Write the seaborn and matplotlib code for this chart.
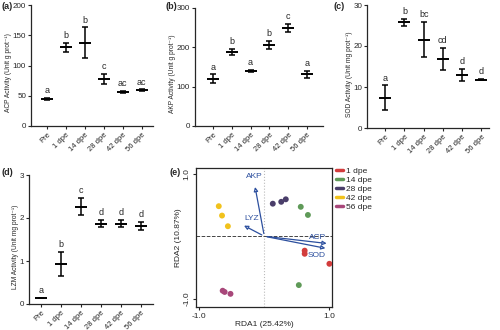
import numpy as np
import pandas as pd
import matplotlib
matplotlib.use("Agg")
import matplotlib.pyplot as plt
import seaborn as sns
from matplotlib.lines import Line2D
from matplotlib.patches import FancyArrowPatch

sns.set_style("ticks")
plt.rcParams['font.family'] = ['Liberation Sans', 'DejaVu Sans']

groups = ["Pre", "1 dpe", "14 dpe", "28 dpe", "42 dpe", "56 dpe"]

acp_mean = [45, 130, 138, 78, 56, 59]
acp_sd = [2, 8, 25, 8, 2, 1.5]
acp_letters = ["a", "b", "b", "c", "ac", "ac"]

akp_mean = [120, 188, 140, 206, 249, 132]
akp_sd = [11, 8, 3, 11, 10, 9]
akp_letters = ["a", "b", "a", "b", "c", "a"]

sod_mean = [7.4, 25.8, 21.5, 16.8, 13.0, 11.8]
sod_sd = [3.0, 0.8, 4.3, 2.7, 1.5, 0.15]
sod_letters = ["a", "b", "bc", "cd", "d", "d"]

lzm_mean = [0.14, 0.94, 2.26, 1.87, 1.87, 1.81]
lzm_sd = [0.01, 0.28, 0.20, 0.09, 0.08, 0.10]
lzm_letters = ["a", "b", "c", "d", "d", "d"]

# RDA data
rda_groups = ["1 dpe", "1 dpe", "1 dpe", "14 dpe", "14 dpe", "14 dpe",
              "28 dpe", "28 dpe", "28 dpe", "42 dpe", "42 dpe", "42 dpe",
              "56 dpe", "56 dpe", "56 dpe"]
rda1 = [0.62, 0.62, 1.0, 0.56, 0.67, 0.53, 0.13, 0.26, 0.33,
        -0.70, -0.65, -0.56, -0.64, -0.61, -0.52]
rda2 = [-0.23, -0.28, -0.44, 0.47, 0.34, -0.78, 0.52, 0.55, 0.59,
        0.48, 0.33, 0.16, -0.87, -0.89, -0.92]
vec_names = ["AKP", "LYZ", "ACP", "SOD"]
vec_x = [-0.15, -0.35, 1.0, 0.98]
vec_y = [0.83, 0.19, -0.12, -0.20]
palette = {"1 dpe": "#d23c3c", "14 dpe": "#5f9a58", "28 dpe": "#4a3e6a",
           "42 dpe": "#f1c21c", "56 dpe": "#a8477a"}

W, H = 500, 330
fig = plt.figure(figsize=(5, 3.3), dpi=100)

def px_axes(l, t, r, b):
    return fig.add_axes([l / W, 1 - b / H, (r - l) / W, (b - t) / H])

def bar_panel(ax, means, sds, letters, ymax, yticks, ylabel, xlim):
    df = pd.DataFrame({"group": groups, "mean": means})
    x = np.arange(len(groups))
    ax.errorbar(x, means, yerr=sds, fmt="none", ecolor="black",
                elinewidth=1.1, capsize=2.3, capthick=1.1, zorder=3)
    sns.scatterplot(data=df, x="group", y="mean", marker="_", s=70,
                    color="black", linewidth=1.4, ax=ax, zorder=4, legend=False)
    for xi, m, s, lt in zip(x, means, sds, letters):
        ax.annotate(lt, (xi, m + s), xytext=(0, 2), textcoords="offset points",
                    ha="center", va="bottom", fontsize=6.5)
    ax.set_ylim(0, ymax)
    ax.set_yticks(yticks)
    ax.set_xlim(*xlim)
    ax.set_xticks(x)
    ax.set_xticklabels(groups, rotation=45, ha="right", rotation_mode="anchor",
                       fontsize=5.5)
    ax.tick_params(axis="y", labelsize=5.8, length=2.5, width=0.8, pad=1)
    ax.tick_params(axis="x", length=2.5, width=0.8, pad=1.5)
    ax.set_xlabel("")
    ax.set_ylabel(ylabel, fontsize=4.8, labelpad=0.5)
    ax.yaxis.label.set_y(0.44)
    for sp in ["left", "bottom"]:
        ax.spines[sp].set_linewidth(0.9)
    sns.despine(ax=ax)

ax_a = px_axes(31, 5, 153, 126)
bar_panel(ax_a, acp_mean, acp_sd, acp_letters, 200, [0, 50, 100, 150, 200],
          "ACP Activity (Unit g prot\u207b\u00b9)", (-0.85, 5.6))
ax_b = px_axes(195, 8, 323, 126)
bar_panel(ax_b, akp_mean, akp_sd, akp_letters, 300, [0, 100, 200, 300],
          "AKP Activity (Unit g prot\u207b\u00b9)", (-0.95, 5.85))
ax_c = px_axes(367, 5, 489, 128)
bar_panel(ax_c, sod_mean, sod_sd, sod_letters, 30, [0, 10, 20, 30],
          "SOD Activity (Unit mg prot\u207b\u00b9)", (-0.95, 5.4))
ax_d = px_axes(29, 175, 153, 304)
bar_panel(ax_d, lzm_mean, lzm_sd, lzm_letters, 3, [0, 1, 2, 3],
          "LZM Activity (Unit mg prot\u207b\u00b9)", (-0.6, 5.6))

# RDA panel
ax_e = px_axes(196, 168, 332, 307)
ax_e.axvline(0, color="#bbbbbb", lw=0.8, ls=":", zorder=1)
ax_e.axhline(0, color="#444444", lw=0.7, ls="--", zorder=1)
rdf = pd.DataFrame({"group": rda_groups, "RDA1": rda1, "RDA2": rda2})
sns.scatterplot(data=rdf, x="RDA1", y="RDA2", hue="group", palette=palette,
                s=18, edgecolor="none", ax=ax_e, legend=False, zorder=3)
offs = {"AKP": (0, 3, "center", "bottom"), "LYZ": (2, 2, "left", "bottom"),
        "ACP": (-2, 2, "right", "bottom"), "SOD": (-2, -2, "right", "top")}
for n, vx, vy in zip(vec_names, vec_x, vec_y):
    arr = FancyArrowPatch((0, 0), (vx, vy), arrowstyle="-|>", mutation_scale=6,
                          color="#2c4f9e", lw=0.9, zorder=4)
    arr.set_facecolor("white")
    ax_e.add_patch(arr)
    dx, dy, ha, va = offs[n]
    ax_e.annotate(n, (vx, vy), xytext=(dx, dy), textcoords="offset points",
                  ha=ha, va=va, fontsize=6, color="#2c4f9e")
ax_e.set_xlim(-1.05, 1.04)
ax_e.set_ylim(-1.13, 1.09)
ax_e.set_xticks([-1.0, 1.0])
ax_e.set_yticks([-1.0, 1.0])
ax_e.set_xticklabels(["-1.0", "1.0"], fontsize=6)
ax_e.set_yticklabels(["-1.0", "1.0"], fontsize=6, rotation=90, va="center")
ax_e.tick_params(length=2.5, width=0.8, pad=1.5)
ax_e.set_xlabel("RDA1 (25.42%)", fontsize=6, labelpad=1)
ax_e.set_ylabel("RDA2 (10.87%)", fontsize=6, labelpad=1)
for sp in ax_e.spines.values():
    sp.set_linewidth(0.9)

handles = [Line2D([0], [0], color=palette[g], lw=2.5) for g in palette]
fig.legend(handles, list(palette.keys()), loc="upper left",
           bbox_to_anchor=(336 / W, 1 - 167 / H), frameon=False, fontsize=6,
           handlelength=0.8, handletextpad=0.4, labelspacing=0.15,
           borderaxespad=0, borderpad=0)

for lab, x, y in [("(a)", 1, 2), ("(b)", 166, 2), ("(c)", 333, 2),
                  ("(d)", 2, 168), ("(e)", 170, 168)]:
    fig.text(x / W, 1 - y / H, lab, fontsize=6.5, fontweight="bold",
             ha="left", va="top")

fig.savefig("out.png", dpi=100)
